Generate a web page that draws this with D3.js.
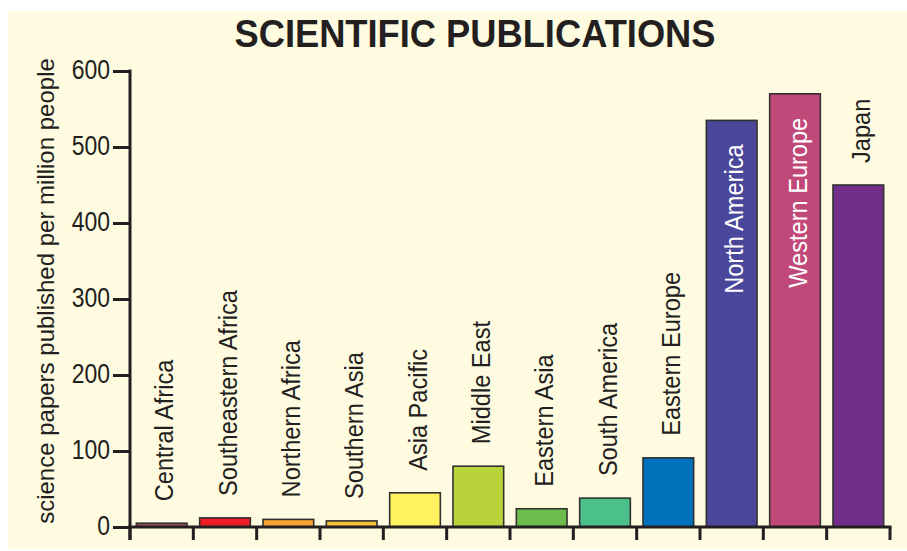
<!DOCTYPE html>
<html>
<head>
<meta charset="utf-8">
<script src="https://cdn.jsdelivr.net/npm/d3@7"></script>
<style>
  html, body { margin: 0; padding: 0; background: #ffffff; }
  svg { display: block; }
  text { font-family: "Liberation Sans", Arial, sans-serif; }
</style>
</head>
<body>
<svg id="chart" width="907" height="551"></svg>
<script>
// Regions, papers per million people, and bar colours
const regions = [
  "Central Africa", "Southeastern Africa", "Northern Africa", "Southern Asia",
  "Asia Pacific", "Middle East", "Eastern Asia", "South America",
  "Eastern Europe", "North America", "Western Europe", "Japan"
];
const papers = [5, 12, 10, 8, 45, 80, 24, 38, 91, 535, 570, 450];
const barColors = [
  "#94504f", "#ec1c24", "#f9a533", "#f4c436", "#fff25e", "#b9d43b",
  "#6cbd4e", "#4bc08b", "#0072bb", "#4a479a", "#c0497a", "#722d8b"
];
// Regions whose name sits inside the bar
const insideLabels = ["North America", "Western Europe"];
const yTicks = [0, 100, 200, 300, 400, 500, 600];

const title = "SCIENTIFIC PUBLICATIONS";
const yTitle = "science papers published per million people";

const data = regions.map((r, i) => ({ region: r, value: papers[i], color: barColors[i] }));

const svg = d3.select("#chart");
const ink = "#231f20";

// cream panel
svg.append("rect")
  .attr("x", 8).attr("y", 11).attr("width", 899).attr("height", 538)
  .attr("fill", "#fefbe0");

const x = d3.scaleBand()
  .domain(regions)
  .range([130, 890])
  .paddingInner(0.2)
  .paddingOuter(0.1);

const y = d3.scaleLinear().domain([0, 600]).range([527, 71]);

// title
svg.append("text")
  .attr("transform", "translate(475,47) scale(0.955,1)")
  .attr("text-anchor", "middle")
  .attr("font-size", 38)
  .attr("font-weight", "bold")
  .style("fill", ink)
  .text(title);

// y axis title
svg.append("text")
  .attr("transform", "translate(54,291) rotate(-90)")
  .attr("text-anchor", "middle")
  .attr("font-size", 24)
  .style("fill", ink)
  .text(yTitle);

// bars
svg.append("g").selectAll("rect")
  .data(data)
  .join("rect")
  .attr("x", d => x(d.region))
  .attr("y", d => y(d.value))
  .attr("width", x.bandwidth())
  .attr("height", d => y(0) - y(d.value))
  .attr("fill", d => d.color)
  .attr("stroke", "#333031")
  .attr("stroke-width", 1.6);

// region labels, rotated; the two tallest bars carry theirs inside in white
const labelSize = 26.5;
svg.append("g").selectAll("text")
  .data(data)
  .join("text")
  .attr("font-size", labelSize)
  .attr("text-anchor", d => insideLabels.includes(d.region) ? "end" : "start")
  .style("fill", d => insideLabels.includes(d.region) ? "#ffffff" : ink)
  .attr("transform", d => {
    const cx = x(d.region) + x.bandwidth() / 2 + 11.5;
    const inside = insideLabels.includes(d.region);
    const cy = inside ? y(d.value) + 24 : y(d.value) - 22;
    return `translate(${cx},${cy}) rotate(-90) scale(0.89,1)`;
  })
  .text(d => d.region);

// y axis
const yAxis = d3.axisLeft(y).tickValues(yTicks).tickSize(17).tickSizeOuter(0);
const gy = svg.append("g").attr("transform", "translate(130,0)").call(yAxis);
gy.select(".domain").remove();
gy.selectAll(".tick line").attr("stroke", ink).attr("stroke-width", 3);
gy.selectAll(".tick text")
  .attr("x", null)
  .attr("dy", "0.27em")
  .attr("transform", "translate(-20,0) scale(0.82,1)")
  .attr("font-size", 28)
  .attr("font-family", "'Liberation Sans', Arial, sans-serif")
  .style("fill", ink);

svg.append("line")
  .attr("x1", 130).attr("x2", 130)
  .attr("y1", y(600) - 1.5).attr("y2", 540)
  .attr("stroke", ink).attr("stroke-width", 3);

// x axis baseline and band-edge ticks
const step = x.step();
const edges = regions.map(r => x(r) - step * x.paddingInner() / 2);
edges.push(edges[edges.length - 1] + step);

svg.append("line")
  .attr("x1", 128.5).attr("x2", edges[edges.length - 1] + 1.5)
  .attr("y1", y(0)).attr("y2", y(0))
  .attr("stroke", ink).attr("stroke-width", 3);

svg.append("g").selectAll("line")
  .data(edges)
  .join("line")
  .attr("x1", d => d).attr("x2", d => d)
  .attr("y1", y(0)).attr("y2", 540)
  .attr("stroke", ink).attr("stroke-width", 3);
</script>
</body>
</html>
